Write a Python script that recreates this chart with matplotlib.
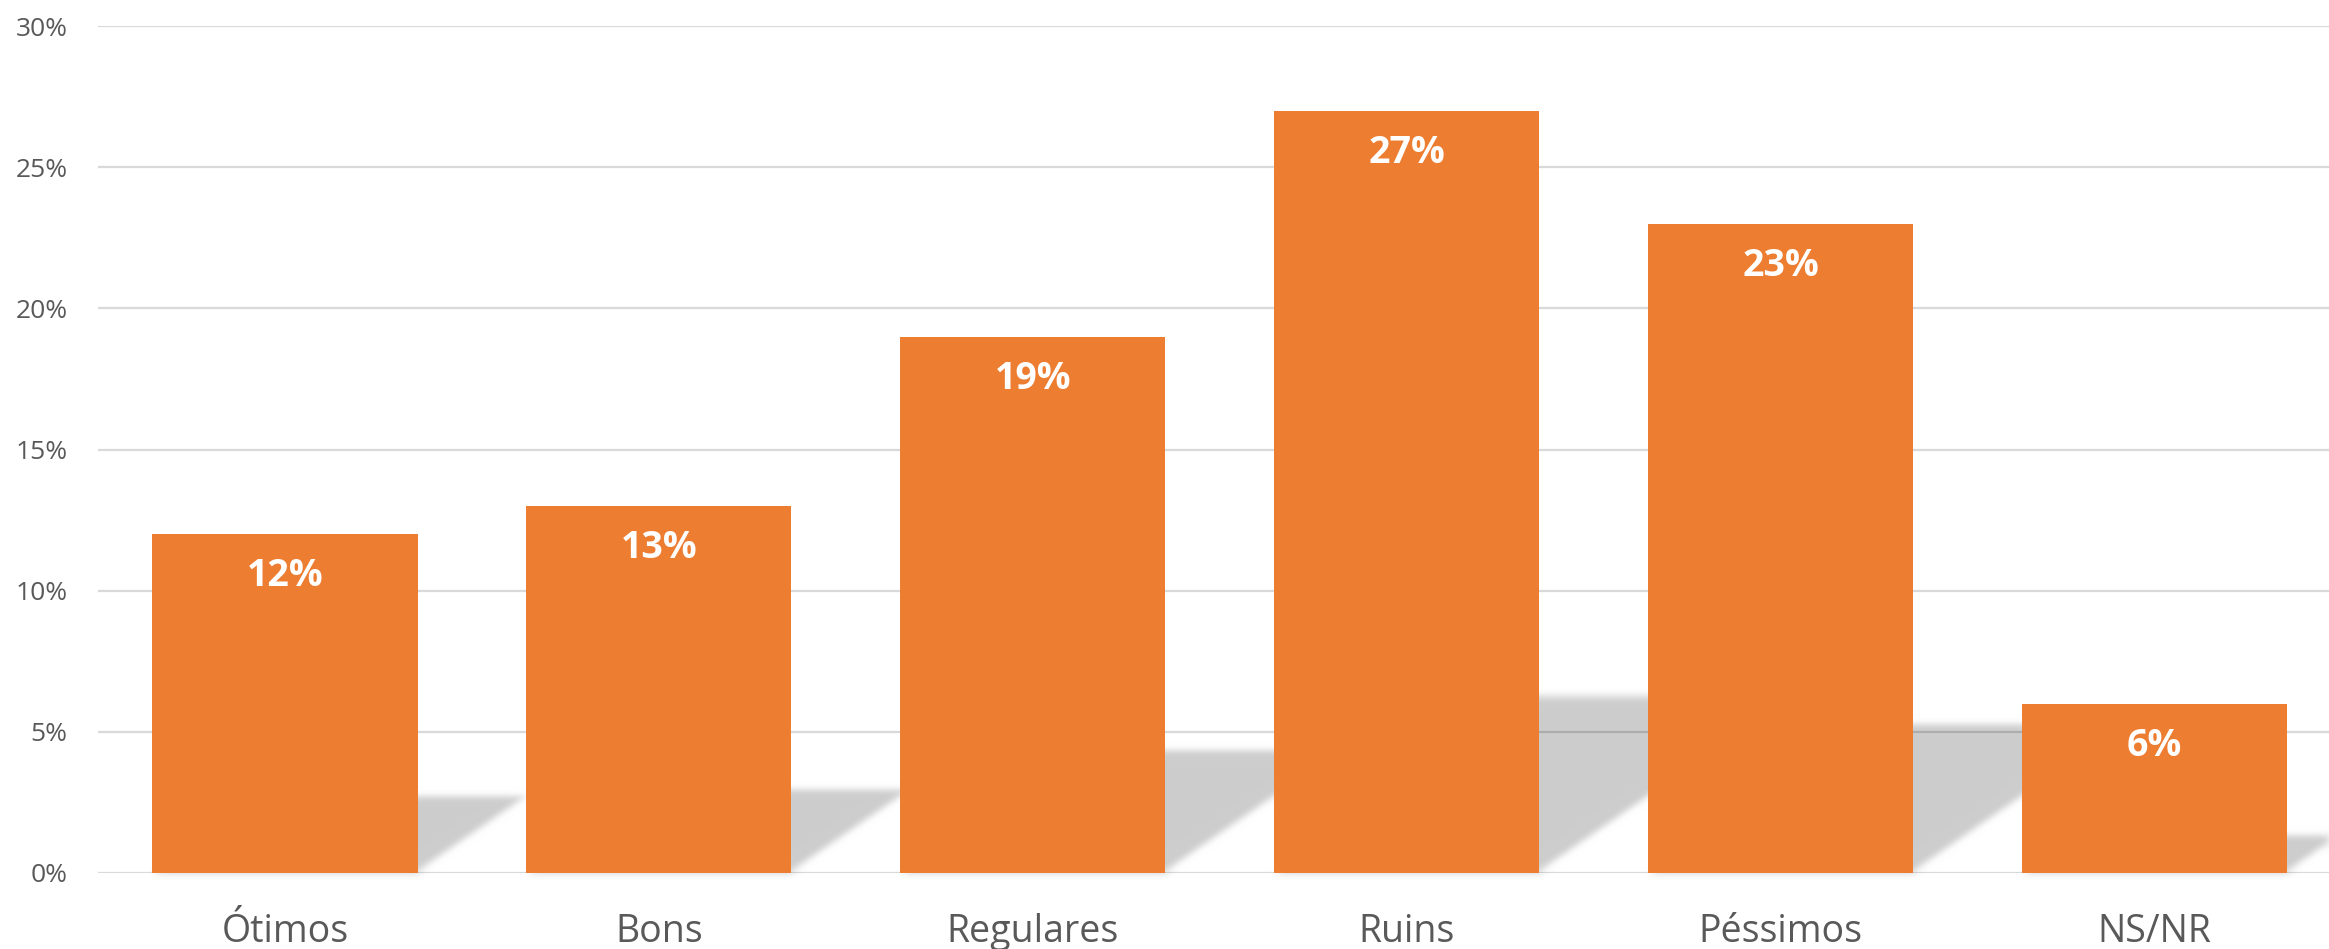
import numpy as np
import matplotlib
matplotlib.use('Agg')
import matplotlib.pyplot as plt
from matplotlib.patches import Polygon
from matplotlib.collections import PatchCollection

categories = ['Ótimos', 'Bons', 'Regulares', 'Ruins', 'Péssimos', 'NS/NR']
values = [12, 13, 19, 27, 23, 6]
value_labels = ['12%', '13%', '19%', '27%', '23%', '6%']
yticks = [0, 5, 10, 15, 20, 25, 30]
ytick_labels = ['0%', '5%', '10%', '15%', '20%', '25%', '30%']

ORANGE = '#ED7D31'
TEXT = '#595959'
GRID = '#d9d9d9'
FONT = 'Open Sans'

fig = plt.figure(figsize=(23.29, 9.49), dpi=100)
ax = fig.add_axes([98 / 2329, 76 / 949, (2341.5 - 98) / 2329, (923 - 76) / 949])
ax.set_xlim(-0.5, len(categories) - 0.5)
ax.set_ylim(0, 30)

x = np.arange(len(categories))
bars = ax.bar(x, values, width=0.709, color=ORANGE, zorder=2)

ax.set_yticks(yticks)
ax.set_yticklabels(ytick_labels, fontsize=19, color=TEXT, family=FONT)
ax.set_xticks(x)
ax.set_xticklabels(categories, fontsize=27, color=TEXT, family=FONT)
ax.tick_params(axis='both', length=0)
ax.tick_params(axis='y', pad=22)
ax.tick_params(axis='x', pad=29)
ax.yaxis.grid(True, color=GRID, lw=1.6, zorder=0.5)
ax.set_axisbelow(True)
for s in ax.spines.values():
    s.set_visible(False)

# perspective shadows
def gauss_blur(im, dpi):
    sigma = 4.0
    r = int(3 * sigma)
    pad = r
    a = np.pad(im, ((pad, pad), (pad, pad), (0, 0)), mode='constant')
    k = np.exp(-0.5 * (np.arange(-r, r + 1) / sigma) ** 2)
    k /= k.sum()
    out = np.zeros_like(a)
    for i, w in enumerate(k):
        out += w * np.roll(a, i - r, axis=0)
    out2 = np.zeros_like(a)
    for i, w in enumerate(k):
        out2 += w * np.roll(out, i - r, axis=1)
    return out2, -pad, -pad

ratio = 0.232
skew = 1.45
inv = ax.transData.inverted()
polys = []
for rect in bars:
    xl = rect.get_x()
    xr = xl + rect.get_width()
    h = rect.get_height()
    pl = ax.transData.transform((xl, 0))
    pr = ax.transData.transform((xr, 0))
    pt = ax.transData.transform((xl, h))
    hs = ratio * (pt[1] - pl[1])
    dx = skew * hs
    disp = np.array([[pl[0], pl[1]], [pr[0], pr[1]],
                     [pr[0] + dx, pr[1] + hs], [pl[0] + dx, pl[1] + hs]])
    polys.append(Polygon(inv.transform(disp), closed=True))
pc = PatchCollection(polys, facecolor=(0, 0, 0, 0.2), edgecolor='none',
                     zorder=1, clip_on=False)
pc.set_agg_filter(gauss_blur)
pc.set_rasterized(True)
ax.add_collection(pc)

for xi, v, lab in zip(x, values, value_labels):
    ax.annotate(lab, xy=(xi, v), xytext=(0, -42), textcoords='offset pixels',
                ha='center', va='center', fontsize=27, fontweight='bold',
                color='white', family=FONT, zorder=3)

fig.savefig('out.png', dpi=100, facecolor='white')
